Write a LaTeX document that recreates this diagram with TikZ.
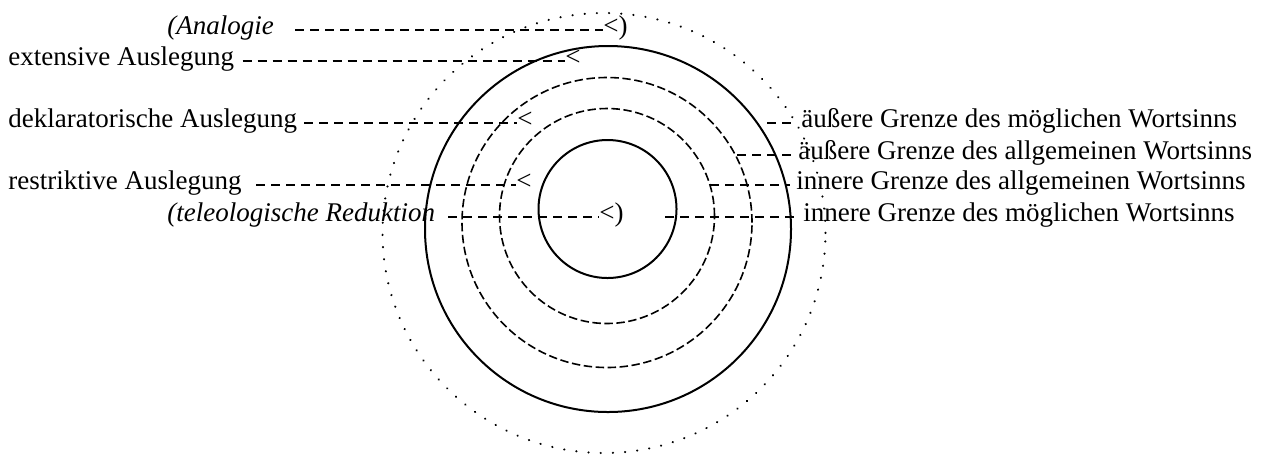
\documentclass[tikz,border=0pt]{standalone}
\usepackage{fontspec}
\setmainfont{Liberation Serif}
\usepackage{tikz}
\usetikzlibrary{positioning}

\begin{document}
\begin{tikzpicture}[
    x=0.5pt, y=-0.5pt,
    every node/.style={font=\fontsize{13.5pt}{16pt}\selectfont, inner sep=0pt, text height=0.68em, text depth=0.22em},
    leftlabel/.style={anchor=west},
    slanted/.style={anchor=west, font=\fontsize{13.5pt}{16pt}\selectfont\itshape},
    tiplabel/.style={anchor=west},
    rightlabel/.style={anchor=west, inner xsep=3pt},
    ring/.style={line width=1pt},
    dashring/.style={line width=0.8pt, dash pattern=on 4.2pt off 1.8pt},
    dotring/.style={line width=1.1pt, dash pattern=on 0.1pt off 6pt, line cap=round},
    dashline/.style={line width=0.85pt, dash pattern=on 4.5pt off 3pt}
]
\useasboundingbox (0,0) rectangle (1261,457);

% Circles
\draw[dotring] (604,233) circle [x radius=110.75pt, y radius=110pt];
\draw[ring] (608,229) circle [radius=91.5pt];
\draw[dashring] (607,222.5) circle [radius=72.5pt];
\draw[dashring] (607,216) circle [radius=53.75pt];
\draw[ring] (607.5,209) circle [radius=34.5pt];

% Nodes
\node[slanted] (analogie) at (167,30) {(Analogie};
\node[leftlabel] (extensiv) at (8,61) {extensive Auslegung};
\node[leftlabel] (deklarativ) at (8,123) {deklaratorische Auslegung};
\node[leftlabel] (restriktiv) at (8,185) {restriktive Auslegung};
\node[slanted] (reduktion) at (167,217) {(teleologische Reduktion};

\node[tiplabel] (analogie-tip) at (603,30) {<)};
\node[tiplabel] (extensiv-tip) at (565,61) {<};
\node[tiplabel] (deklarativ-tip) at (517,123) {<};
\node[tiplabel] (restriktiv-tip) at (516,185) {<};
\node[tiplabel] (reduktion-tip) at (599,217) {<)};

\node[rightlabel] (aussen-moeglich) at (795,123) {äußere Grenze des möglichen Wortsinns};
\node[rightlabel] (aussen-allg) at (792,155) {äußere Grenze des allgemeinen Wortsinns};
\node[rightlabel] (innen-allg) at (790,185) {innere Grenze des allgemeinen Wortsinns};
\node[rightlabel] (innen-moeglich) at (797,217) {innere Grenze des möglichen Wortsinns};

\coordinate (am) at (767,123);
\coordinate (aa) at (737,155);
\coordinate (ia) at (710,185);
\coordinate (im) at (665,217);

% Lines
\draw[dashline] ([xshift=10.5pt]analogie.east) -- (analogie-tip.west);
\draw[dashline] ([xshift=4pt]extensiv.east) -- (extensiv-tip.west);
\draw[dashline] ([xshift=3.5pt]deklarativ.east) -- (deklarativ-tip.west);
\draw[dashline] ([xshift=7pt]restriktiv.east) -- (restriktiv-tip.west);
\draw[dashline] ([xshift=6.5pt]reduktion.east) -- (reduktion-tip.west);

\draw[dashline] (am) -- (aussen-moeglich.west);
\draw[dashline] (aa) -- (aussen-allg.west);
\draw[dashline] (ia) -- (innen-allg.west);
\draw[dashline] (im) -- (innen-moeglich.west);

\end{tikzpicture}
\end{document}
